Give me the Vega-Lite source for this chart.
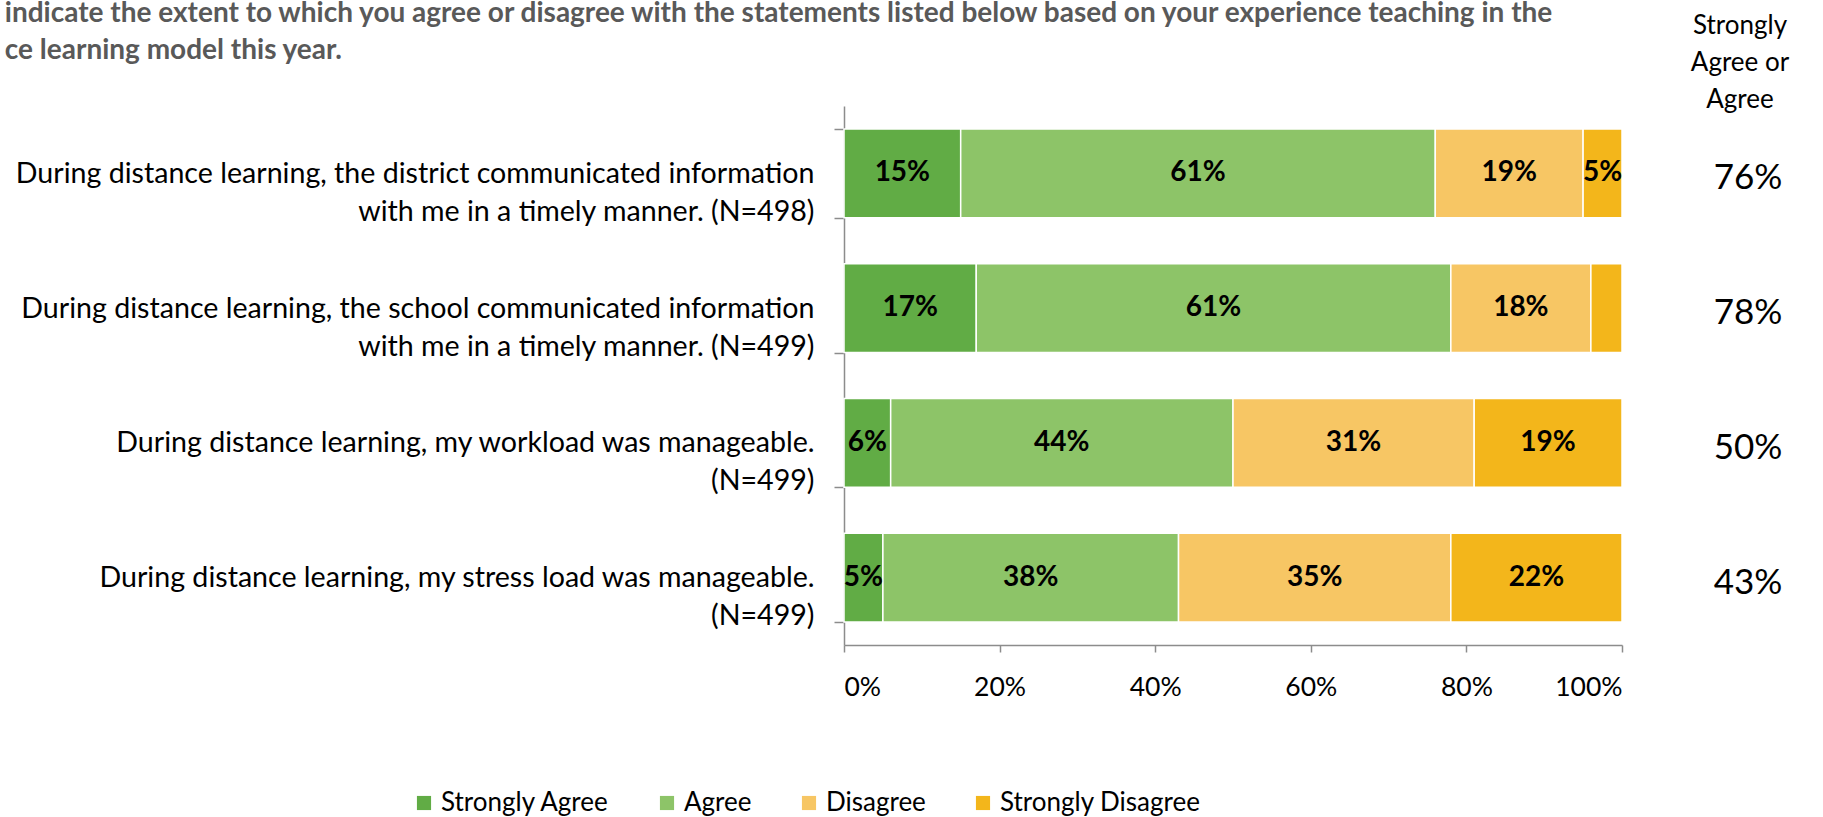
{
  "$schema": "https://vega.github.io/schema/vega-lite/v6.json",
  "padding": {"left": 4, "top": 0, "right": 0, "bottom": 0},
  "config": {
    "view": {"stroke": null},
    "font": "Lato",
    "concat": {"spacing": 50}
  },
  "datasets": {
    "bars": [
      {"q": "During distance learning, the district communicated information|with me in a timely manner. (N=498)", "cat": "Strongly Agree", "k": 1, "value": 0.15},
      {"q": "During distance learning, the district communicated information|with me in a timely manner. (N=498)", "cat": "Agree", "k": 2, "value": 0.61},
      {"q": "During distance learning, the district communicated information|with me in a timely manner. (N=498)", "cat": "Disagree", "k": 3, "value": 0.19},
      {"q": "During distance learning, the district communicated information|with me in a timely manner. (N=498)", "cat": "Strongly Disagree", "k": 4, "value": 0.05},
      {"q": "During distance learning, the school communicated information|with me in a timely manner. (N=499)", "cat": "Strongly Agree", "k": 1, "value": 0.17},
      {"q": "During distance learning, the school communicated information|with me in a timely manner. (N=499)", "cat": "Agree", "k": 2, "value": 0.61},
      {"q": "During distance learning, the school communicated information|with me in a timely manner. (N=499)", "cat": "Disagree", "k": 3, "value": 0.18},
      {"q": "During distance learning, the school communicated information|with me in a timely manner. (N=499)", "cat": "Strongly Disagree", "k": 4, "value": 0.04},
      {"q": "During distance learning, my workload was manageable.|(N=499)", "cat": "Strongly Agree", "k": 1, "value": 0.06},
      {"q": "During distance learning, my workload was manageable.|(N=499)", "cat": "Agree", "k": 2, "value": 0.44},
      {"q": "During distance learning, my workload was manageable.|(N=499)", "cat": "Disagree", "k": 3, "value": 0.31},
      {"q": "During distance learning, my workload was manageable.|(N=499)", "cat": "Strongly Disagree", "k": 4, "value": 0.19},
      {"q": "During distance learning, my stress load was manageable.|(N=499)", "cat": "Strongly Agree", "k": 1, "value": 0.05},
      {"q": "During distance learning, my stress load was manageable.|(N=499)", "cat": "Agree", "k": 2, "value": 0.38},
      {"q": "During distance learning, my stress load was manageable.|(N=499)", "cat": "Disagree", "k": 3, "value": 0.35},
      {"q": "During distance learning, my stress load was manageable.|(N=499)", "cat": "Strongly Disagree", "k": 4, "value": 0.22}
    ],
    "summary": [
      {"q": "During distance learning, the district communicated information|with me in a timely manner. (N=498)", "agree": 0.76},
      {"q": "During distance learning, the school communicated information|with me in a timely manner. (N=499)", "agree": 0.78},
      {"q": "During distance learning, my workload was manageable.|(N=499)", "agree": 0.50},
      {"q": "During distance learning, my stress load was manageable.|(N=499)", "agree": 0.43}
    ]
  },
  "hconcat": [
    {
      "width": 778,
      "height": 539,
      "data": {"name": "bars"},
      "title": {
        "text": ["indicate the extent to which you agree or disagree with the statements listed below based on your experience teaching in the", "ce learning model this year."],
        "anchor": "start",
        "frame": "bounds",
        "fontSize": 28,
        "fontWeight": "bold",
        "color": "#595959",
        "lineHeight": 37,
        "offset": 27,
        "dx": -10.5
      },
      "encoding": {
        "y": {
          "field": "q",
          "type": "nominal",
          "sort": null,
          "scale": {"paddingInner": 0.34, "paddingOuter": 0.17},
          "axis": {
            "title": null,
            "labelExpr": "split(datum.label, '|')",
            "labelFontSize": 28.6,
            "labelLineHeight": 38,
            "labelColor": "#000000",
            "labelLimit": 1000,
            "labelPadding": 20,
            "tickBand": "extent",
            "tickSize": 10,
            "tickColor": "#8c8c8c",
            "tickWidth": 1.5,
            "domainColor": "#8c8c8c",
            "domainWidth": 1.5
          }
        }
      },
      "layer": [
        {
          "mark": {"type": "bar", "stroke": "#ffffff", "strokeWidth": 1.5},
          "encoding": {
            "x": {
              "field": "value",
              "type": "quantitative",
              "stack": "zero",
              "scale": {"domain": [0, 1], "nice": false},
              "axis": {
                "title": null,
                "values": [0, 0.2, 0.4, 0.6, 0.8, 1],
                "format": ".0%",
                "grid": false,
                "labelFontSize": 26.5,
                "labelColor": "#000000",
                "labelPadding": 22,
                "tickSize": 7,
                "tickColor": "#8c8c8c",
                "tickWidth": 1.5,
                "domainColor": "#8c8c8c",
                "domainWidth": 1.5
              }
            },
            "color": {
              "field": "cat",
              "type": "nominal",
              "scale": {
                "domain": ["Strongly Agree", "Agree", "Disagree", "Strongly Disagree"],
                "range": ["#61ac45", "#8dc468", "#f7c664", "#f3b61b"]
              },
              "legend": {
                "title": null,
                "orient": "none",
                "direction": "horizontal",
                "columns": 4,
                "legendX": -433,
                "legendY": 684,
                "symbolType": "square",
                "symbolSize": 200,
                "symbolStrokeWidth": 0,
                "labelFontSize": 26,
                "labelColor": "#000000",
                "labelOffset": 4,
                "columnPadding": 44,
                "labelLimit": 400
              }
            },
            "order": {"field": "k", "type": "quantitative"}
          }
        },
        {
          "mark": {"type": "text", "fontSize": 28, "fontWeight": "bold", "color": "#000000"},
          "encoding": {
            "x": {"field": "value", "type": "quantitative", "stack": "zero", "bandPosition": 0.5},
            "order": {"field": "k", "type": "quantitative"},
            "text": {
              "field": "value",
              "type": "quantitative",
              "format": ".0%",
              "condition": {"test": "datum.value < 0.045", "value": ""}
            }
          }
        }
      ]
    },
    {
      "width": 150,
      "height": 539,
      "data": {"name": "summary"},
      "title": {
        "text": ["Strongly", "Agree or", "Agree"],
        "anchor": "middle",
        "fontSize": 26,
        "fontWeight": "normal",
        "color": "#000000",
        "lineHeight": 37,
        "offset": -7,
        "dx": -8
      },
      "mark": {"type": "text", "fontSize": 35, "color": "#000000", "dy": 5},
      "encoding": {
        "y": {
          "field": "q",
          "type": "nominal",
          "sort": null,
          "scale": {"paddingInner": 0.34, "paddingOuter": 0.17},
          "axis": null
        },
        "text": {"field": "agree", "type": "quantitative", "format": ".0%"}
      }
    }
  ]
}
